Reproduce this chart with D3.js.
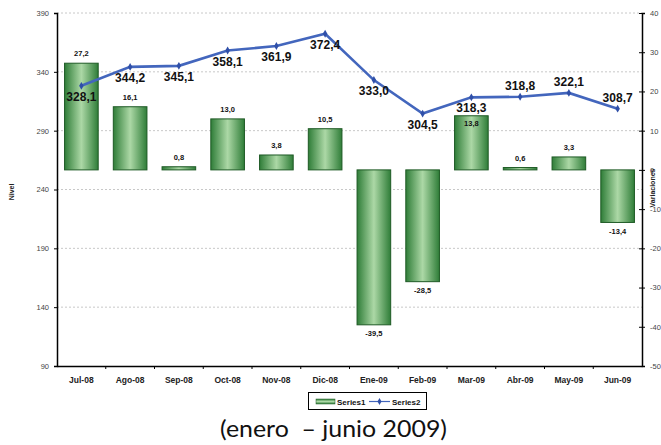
<!DOCTYPE html>
<html><head><meta charset="utf-8">
<script src="https://cdn.jsdelivr.net/npm/d3@7"></script>
<style>
html,body{margin:0;padding:0;background:#fff;}
svg{display:block;font-family:"Liberation Sans",Arial,sans-serif;}
</style></head>
<body><svg id="c" width="661" height="445"></svg>
<script>
const categories = ["Jul-08","Ago-08","Sep-08","Oct-08","Nov-08","Dic-08","Ene-09","Feb-09","Mar-09","Abr-09","May-09","Jun-09"];
const series1 = [27.2,16.1,0.8,13.0,3.8,10.5,-39.5,-28.5,13.8,0.6,3.3,-13.4];
const series2 = [328.1,344.2,345.1,358.1,361.9,372.4,333.0,304.5,318.3,318.8,322.1,308.7];
const leftTicks = [90,140,190,240,290,340,390];
const rightTicks = [-50,-40,-30,-20,-10,0,10,20,30,40];
const seriesNames = ["Series1","Series2"];
const lineLabelSide = ["below","below","below","below","below","below","below","below","below","above","above","above"];
const barLabelInside = [false,false,false,false,false,false,false,false,true,false,false,false];
const subtitle = "(enero  \u2013 junio 2009)";

const svg = d3.select("#c");
const L = 57, R = 642, T = 13, B = 366;
const fmt = d3.formatLocale({decimal:",",thousands:".",grouping:[3],currency:["",""],minus:"-"}).format(".1f");

const x = d3.scaleBand().domain(categories).range([L,R]).padding(0);
const yL = d3.scaleLinear().domain([90,390]).range([B,T]);
const yR = d3.scaleLinear().domain([-50,40]).range([B,T]);
const bw = x.bandwidth()*0.69;

const defs = svg.append("defs");
const g1 = defs.append("linearGradient").attr("id","barg").attr("x1","0").attr("x2","1").attr("y1","0").attr("y2","0");
g1.append("stop").attr("offset","0%").attr("stop-color","#2f7d38");
g1.append("stop").attr("offset","50%").attr("stop-color","#acd8a6");
g1.append("stop").attr("offset","100%").attr("stop-color","#2f7d38");
const g2 = defs.append("linearGradient").attr("id","legg").attr("x1","0").attr("x2","0").attr("y1","0").attr("y2","1");
g2.append("stop").attr("offset","0%").attr("stop-color","#2f7d38");
g2.append("stop").attr("offset","50%").attr("stop-color","#acd8a6");
g2.append("stop").attr("offset","100%").attr("stop-color","#2f7d38");

// gridlines
svg.append("g").selectAll("line").data(leftTicks.filter(d=>d>90)).join("line")
  .attr("x1",L).attr("x2",R).attr("y1",d=>yL(d)).attr("y2",d=>yL(d))
  .attr("stroke","#c8c8c8").attr("stroke-width",1).attr("stroke-dasharray","2,2");

// bars
svg.append("g").selectAll("rect").data(series1).join("rect")
  .attr("x",(d,i)=>x(categories[i])+(x.bandwidth()-bw)/2)
  .attr("width",bw)
  .attr("y",d=>Math.min(yR(d),yR(0)))
  .attr("height",d=>Math.abs(yR(d)-yR(0)))
  .attr("fill","url(#barg)").attr("stroke","#1e5a25").attr("stroke-width",1);

// bar labels
svg.append("g").selectAll("text").data(series1).join("text")
  .attr("x",(d,i)=>x(categories[i])+x.bandwidth()/2)
  .attr("y",(d,i)=> d>=0 ? (barLabelInside[i] ? yR(d)+10.5 : yR(d)-7) : yR(d)+11.5)
  .attr("text-anchor","middle").attr("font-size","7.5px").attr("font-weight","bold").attr("fill","#111")
  .text(d=>fmt(d));

// line
const line = d3.line().x((d,i)=>x(categories[i])+x.bandwidth()/2).y(d=>yL(d));
svg.append("path").datum(series2).attr("d",line).attr("fill","none")
  .attr("stroke","#4366bd").attr("stroke-width",2.6);
svg.append("g").selectAll("path").data(series2).join("path")
  .attr("transform",(d,i)=>`translate(${x(categories[i])+x.bandwidth()/2},${yL(d)})`)
  .attr("d",d3.symbol(d3.symbolDiamond,18)).attr("fill","#2f4fa8");

// line labels
svg.append("g").selectAll("text").data(series2).join("text")
  .attr("x",(d,i)=>x(categories[i])+x.bandwidth()/2)
  .attr("y",(d,i)=> lineLabelSide[i]==="below" ? yL(d)+15 : yL(d)-7)
  .attr("text-anchor","middle").attr("font-size","12px").attr("font-weight","bold").attr("fill","#111")
  .text(d=>fmt(d));

// left axis
const la = svg.append("g").attr("transform",`translate(${L},0)`)
  .call(d3.axisLeft(yL).tickValues(leftTicks).tickSize(3).tickPadding(5).tickFormat(d=>String(d)));
la.select(".domain").attr("stroke","#000").attr("stroke-width",1.5);
la.selectAll(".tick line").attr("stroke","#000");
la.selectAll("text").attr("font-size","7.5px").attr("fill","#444").attr("font-family","Liberation Sans, Arial, sans-serif");

// right axis
const ra = svg.append("g").attr("transform",`translate(${R},0)`)
  .call(d3.axisRight(yR).tickValues(rightTicks).tickSize(3).tickPadding(5).tickFormat(d=>String(d)));
ra.select(".domain").attr("stroke","#000").attr("stroke-width",1.5);
ra.selectAll(".tick line").attr("stroke","#000").attr("x1",-3);
ra.selectAll("text").attr("font-size","7.5px").attr("fill","#444").attr("font-family","Liberation Sans, Arial, sans-serif");

// bottom axis
const ba = svg.append("g").attr("transform",`translate(0,${B})`)
  .call(d3.axisBottom(x).tickSize(0).tickPadding(11));
ba.select(".domain").attr("stroke","#000").attr("stroke-width",1.5);
ba.selectAll("text").attr("font-size","8.5px").attr("font-weight","bold").attr("fill","#222").attr("font-family","Liberation Sans, Arial, sans-serif");
svg.append("g").selectAll("line").data(categories.slice(1)).join("line")
  .attr("x1",d=>x(d)).attr("x2",d=>x(d)).attr("y1",B).attr("y2",B+3)
  .attr("stroke","#000");

// axis titles
svg.append("text").attr("transform",`translate(14,192) rotate(-90)`)
  .attr("text-anchor","middle").attr("font-size","7px").attr("font-weight","bold").attr("fill","#222").text("Nivel");
svg.append("text").attr("transform",`translate(655,188) rotate(-90)`)
  .attr("text-anchor","middle").attr("font-size","7px").attr("font-weight","bold").attr("fill","#222").text("Variaciones");

// legend
const lg = svg.append("g");
lg.append("rect").attr("x",308.5).attr("y",392.5).attr("width",118).attr("height",17)
  .attr("fill","#fff").attr("stroke","#000").attr("stroke-width",1);
lg.append("rect").attr("x",316).attr("y",399).attr("width",19).attr("height",5)
  .attr("fill","url(#legg)").attr("stroke","#1e5a25").attr("stroke-width",0.5);
lg.append("text").attr("x",337).attr("y",404.5).attr("font-size","8px").attr("font-weight","bold").attr("fill","#111").text(seriesNames[0]);
lg.append("line").attr("x1",369).attr("x2",390).attr("y1",401.5).attr("y2",401.5).attr("stroke","#4366bd").attr("stroke-width",1.2);
lg.append("path").attr("transform","translate(379.5,401.5)").attr("d",d3.symbol(d3.symbolDiamond,14)).attr("fill","#2f4fa8");
lg.append("text").attr("x",392).attr("y",404.5).attr("font-size","8px").attr("font-weight","bold").attr("fill","#111").text(seriesNames[1]);

// subtitle
svg.append("text").attr("x",333.5).attr("y",437).attr("text-anchor","middle")
  .attr("font-family","Lato, 'Open Sans', sans-serif").attr("font-size","23px").attr("fill","#111")
  .attr("textLength",227).attr("lengthAdjust","spacingAndGlyphs")
  .style("white-space","pre").text(subtitle);
</script></body></html>
